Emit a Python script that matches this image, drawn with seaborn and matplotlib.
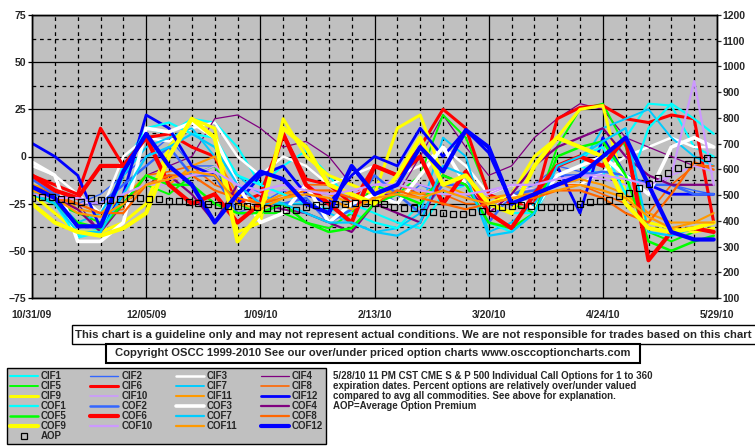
import numpy as np
import pandas as pd
import matplotlib.pyplot as plt
import seaborn as sns
from matplotlib.lines import Line2D
from matplotlib.patches import Rectangle

# weekly readings (day 0 = 10/31/09), last point = 5/28/10
days = list(range(0, 210, 7)) + [209]

cif1 = [-15, -20, -42, -38, -5, 15, 12, 20, 18, 5, -15, -5, 3, -10, -25, -30, -35, -38, -20, -15, -25, -30, -30, -10, -5, -10, 10, 28, 27, 5, 0]
cif2 = [-15, -25, -25, -20, -10, 0, 10, -5, -5, -30, -25, -18, -25, -30, -20, -15, -25, -15, -20, -20, -30, -20, -15, -5, -8, -10, -12, -15, -15, -18, -20]
cif3 = [-5, -10, -20, -30, 0, 10, 8, 15, 18, 0, -10, 0, -5, -15, -10, -5, -10, -5, 5, -5, -20, -15, -18, -15, -15, -8, 0, 5, 10, 5, 5]
cif4 = [-15, -20, -25, -40, -25, -10, -5, 0, 20, 22, 15, 5, 8, 0, -15, -20, -20, 0, 22, 5, -10, -5, 10, 20, 28, 25, 10, 5, 0, -5, -5]
cif5 = [-20, -25, -30, -35, -25, -15, -20, -10, -5, -25, -30, -30, -35, -38, -30, -15, -20, -10, 22, 10, -20, -25, -30, 5, 25, 28, 5, -40, -45, -40, -38]
cif6 = [-10, -15, -20, 15, -5, 10, 12, 5, 0, -25, -20, 12, -12, -15, -25, -5, -10, 5, 25, 15, -20, -25, -25, 20, 26, 27, 20, 18, 22, 20, -35]
cif7 = [-18, -22, -35, -30, -10, 5, 10, 15, 0, -10, -20, -25, -25, -30, -35, -40, -38, -30, 10, 0, -40, -35, -25, -10, -5, 15, 20, 25, 10, 0, -5]
cif8 = [-15, -20, -25, -30, -28, -10, -8, -5, -15, -20, -25, -20, -15, -15, -20, -22, -15, -20, -20, -25, -25, -20, -20, -15, -15, -20, -25, -30, -15, -5, -5]
cif9 = [-20, -30, -40, -40, -35, -25, 5, 20, 15, -40, -35, 20, 0, -10, -15, -20, 15, 22, -10, -15, -25, -20, 0, 10, 25, 27, -20, -35, -38, -40, -38]
cif10 = [-20, -22, -25, -25, -20, -15, -15, -10, -5, -15, -20, -18, -15, -20, -20, -15, -12, -15, -18, -20, -20, -15, -18, -15, -10, -12, -15, -20, -10, -5, -8]
cif11 = [-15, -18, -28, -30, -22, -10, -15, -5, 0, -20, -25, -20, -18, -20, -25, -20, -18, -20, -15, -20, -22, -20, -18, -15, -12, -15, -20, -30, -35, -35, -30]
cif12 = [7, 0, -10, -38, -20, 22, 15, -5, -10, -25, -10, -5, -20, -25, -10, 0, -5, 15, 0, 14, 2, -25, -20, -5, -30, 10, -10, -15, -20, -20, -20]
cof1 = [-18, -25, -43, -40, -10, 15, 18, 12, 10, -10, -15, -20, -25, -28, -30, -35, -38, -25, -10, -15, -35, -40, -30, -5, 0, 5, -20, 15, 28, 20, 12]
cof2 = [-12, -20, -22, -25, -15, -5, 5, -10, -10, -30, -30, -25, -22, -35, -28, -10, -20, -30, -15, -15, -35, -20, -18, -10, -10, -8, -10, -15, -15, -20, -20]
cof3 = [-3, -10, -45, -45, -35, 15, 13, 18, 10, -15, -35, -30, -15, -35, -25, -20, -25, -10, 5, -15, -30, -20, -28, -10, -5, 0, -10, -20, 5, 10, 5]
cof4 = [-20, -22, -28, -40, -25, -15, -10, -20, -35, -15, -25, -28, -30, -35, -40, -25, -30, -35, -10, -15, -30, -20, -5, 5, 10, 15, 0, -10, -15, -15, -15]
cof5 = [-20, -25, -35, -38, -25, -10, -15, -15, -25, -30, -30, -25, -35, -40, -38, -25, -20, -25, -10, -15, -35, -38, -30, 0, 5, 8, -10, -45, -50, -45, -42]
cof6 = [-10, -18, -22, -5, -5, 10, -15, -25, -20, -35, -25, 12, -15, -25, -35, -5, -10, 0, -25, -8, -30, -38, -20, -5, 0, -5, 10, -55, -40, -38, -40]
cof7 = [-20, -25, -40, -40, -20, 0, 5, 12, 5, -15, -25, -25, -30, -35, -35, -40, -42, -35, -5, -10, -42, -40, -30, -5, 0, 8, 15, -40, -42, -38, -35]
cof8 = [-18, -22, -25, -30, -30, -15, -10, -10, -18, -22, -25, -22, -18, -18, -22, -25, -18, -22, -25, -28, -25, -22, -22, -18, -18, -22, -30, -35, -20, -3, -7]
cof9 = [-25, -35, -40, -42, -38, -30, 0, 20, 10, -45, -30, 15, 5, -15, -20, -25, -10, 10, -15, -10, -25, -30, -5, 10, 5, 0, -25, -38, -40, -38, -35]
cof10 = [-20, -22, -22, -25, -20, -15, -12, -10, -8, -15, -18, -15, -18, -20, -18, -15, -15, -18, -20, -20, -18, -15, -15, -12, -10, -10, -12, -15, -10, 40, -15]
cof11 = [-18, -22, -30, -32, -25, -15, -12, -8, -10, -25, -28, -22, -20, -22, -28, -22, -20, -22, -18, -22, -25, -22, -20, -18, -15, -18, -22, -32, -38, -35, -35]
cof12 = [-16, -22, -37, -37, -8, 12, -5, -15, -35, -20, -8, -12, -25, -30, -5, -20, -15, 5, -8, 14, 5, -25, -20, -15, -10, 0, 10, -15, -40, -44, -44]

# average option premium, right axis, every 3 days
aop_days = list(range(0, 208, 3))
aop = [488, 492, 492, 483, 480, 473, 487, 482, 480, 485, 489, 489, 486, 485, 478, 476, 475, 470, 467, 460,
       457, 458, 457, 455, 450, 448, 443, 442, 455, 462, 463, 465, 465, 468, 469, 470, 466, 455, 450, 448,
       436, 433, 430, 427, 428, 436, 440, 448, 452, 456, 461, 458, 454, 454, 455, 454, 465, 472, 476, 481,
       495, 510, 528, 545, 565, 585, 605, 622, 638, 645]

date_ticks = [0, 35, 70, 105, 140, 175, 210]
date_labels = ['10/31/09', '12/05/09', '1/09/10', '2/13/10', '3/20/10', '4/24/10', '5/29/10']

names = ['CIF%d' % i for i in range(1, 13)] + ['COF%d' % i for i in range(1, 13)]
series = [cif1, cif2, cif3, cif4, cif5, cif6, cif7, cif8, cif9, cif10, cif11, cif12,
          cof1, cof2, cof3, cof4, cof5, cof6, cof7, cof8, cof9, cof10, cof11, cof12]
base_cols = ['#00ffff', '#3366ff', '#ffffff', '#800080', '#00ff00', '#ff0000',
             '#00ccff', '#ff6600', '#ffff00', '#cc99ff', '#ff9900', '#0000ff']
colors = dict(zip(names, base_cols + base_cols))
cif_w = [1.5, 1.0, 1.8, 0.9, 1.4, 2.2, 1.4, 1.2, 2.2, 1.2, 1.5, 2.0]
cof_w = [1.6, 1.8, 2.6, 1.6, 1.8, 3.0, 1.6, 1.6, 3.0, 1.6, 1.6, 3.0]
widths = dict(zip(names, cif_w + cof_w))

df = pd.DataFrame({'day': days * len(names),
                   'value': np.concatenate(series),
                   'series': np.repeat(names, len(days))})

sns.set_style('white')
plt.rcParams['font.family'] = ['Liberation Sans', 'DejaVu Sans']
plt.rcParams['font.weight'] = 'bold'

W, H = 755, 446
def fx(x): return x / W
def fy(y): return 1 - y / H

fig = plt.figure(figsize=(W / 100, H / 100), dpi=100)
fig.patch.set_facecolor('white')
ax = fig.add_axes([fx(32), fy(298), 685 / W, 283 / H])
ax.set_facecolor('#c0c0c0')

sns.lineplot(data=df, x='day', y='value', hue='series', size='series',
             hue_order=names, size_order=names, palette=colors, sizes=widths,
             estimator=None, sort=False, legend=False, ax=ax)

ax.set_xlim(0, 210)
ax.set_ylim(-75, 75)
ax.set_xticks(date_ticks)
ax.set_xticklabels(date_labels)
ax.set_xticks([d for d in range(7, 210, 7) if d % 35], minor=True)
ax.set_yticks(range(-75, 76, 25))
ax.set_yticks([-62.5, -37.5, -12.5, 12.5, 37.5, 62.5], minor=True)
ax.set_axisbelow(True)
ax.grid(which='major', color='black', lw=0.9, ls='-')
ax.grid(which='minor', color='black', lw=0.9, ls=(0, (3, 3)))
ax.set_xlabel('')
ax.set_ylabel('')
ax.tick_params(axis='both', which='major', labelsize=7.5, length=3, width=0.9, color='black', direction='out')
ax.tick_params(axis='x', which='major', pad=6)
ax.tick_params(axis='y', which='major', pad=1)
ax.tick_params(which='minor', length=0)
for s in ax.spines.values():
    s.set_color('black')
    s.set_linewidth(1)

ax2 = ax.twinx()
sns.lineplot(x=aop_days, y=aop, ax=ax2, marker='s', linestyle='none', color='black',
             markerfacecolor='none', markeredgecolor='black', markersize=5, markeredgewidth=0.9)
ax2.set_ylim(100, 1200)
ax2.set_yticks(range(100, 1201, 100))
ax2.tick_params(axis='y', labelsize=7.5, length=3, width=0.9, pad=1, direction='out')
ax2.grid(False)
for s in ax2.spines.values():
    s.set_color('black')
    s.set_linewidth(1)

# disclaimer and copyright boxes
fig.add_artist(Rectangle((fx(72), fy(344)), (756 - 72) / W, 19 / H, transform=fig.transFigure,
                         fc='white', ec='black', lw=1))
fig.text(fx(75), fy(334.5), 'This chart is a guideline only and may not represent actual conditions. '
         'We are not responsible for trades based on this chart', fontsize=8.2, va='center', ha='left')
fig.add_artist(Rectangle((fx(106), fy(363)), (640 - 106) / W, 19 / H, transform=fig.transFigure,
                         fc='white', ec='black', lw=1.5))
fig.text(fx(373), fy(353.5), 'Copyright OSCC 1999-2010 See our over/under priced option charts www.osccoptioncharts.com',
         fontsize=8.1, va='center', ha='center')

desc = ['5/28/10 11 PM CST CME S & P 500 Individual Call Options for 1 to 360',
        'expiration dates. Percent options are relatively over/under valued',
        'compared to avg all commodities. See above for explanation.',
        'AOP=Average Option Premium']
for i, line in enumerate(desc):
    fig.text(fx(333), fy(376 + 10 * i), line, fontsize=7.0, va='center', ha='left')

# legend, filled column by column like the original grid
handles = {n: Line2D([], [], color=colors[n], lw=widths[n]) for n in names}
handles['AOP'] = Line2D([], [], marker='s', ls='none', mfc='none', mec='black', ms=5, mew=0.9)
order = ['CIF1', 'CIF5', 'CIF9', 'COF1', 'COF5', 'COF9', 'AOP',
         'CIF2', 'CIF6', 'CIF10', 'COF2', 'COF6', 'COF10',
         'CIF3', 'CIF7', 'CIF11', 'COF3', 'COF7', 'COF11',
         'CIF4', 'CIF8', 'CIF12', 'COF4', 'COF8', 'COF12']
leg = fig.legend([handles[n] for n in order], order, ncol=4, loc='upper left',
                 bbox_to_anchor=(fx(7), fy(368)), frameon=True, fancybox=False,
                 edgecolor='black', facecolor='#c0c0c0', framealpha=1, fontsize=7,
                 handlelength=2.9, handletextpad=0.3, columnspacing=2.4,
                 labelspacing=0.0, borderpad=0.3, borderaxespad=0)
leg.get_frame().set_linewidth(1)

fig.savefig('out.png', dpi=100, facecolor='white')
